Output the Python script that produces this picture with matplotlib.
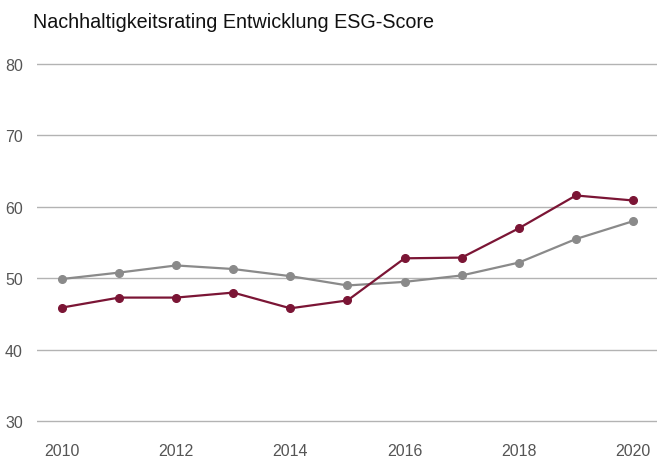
import matplotlib.pyplot as plt

years = [2010, 2011, 2012, 2013, 2014, 2015, 2016, 2017, 2018, 2019, 2020]
score_red = [45.9, 47.3, 47.3, 48.0, 45.8, 46.9, 52.8, 52.9, 57.0, 61.6, 60.9]
score_gray = [49.9, 50.8, 51.8, 51.3, 50.3, 49.0, 49.5, 50.4, 52.2, 55.5, 58.0]
y_ticks = [30, 40, 50, 60, 70, 80]
x_ticks = [2010, 2012, 2014, 2016, 2018, 2020]

plt.rcParams['font.family'] = ['Liberation Sans', 'DejaVu Sans']

fig = plt.figure(figsize=(6.57, 4.64), dpi=100)
ax = fig.add_axes([0.056, 0.081, 0.944, 0.788])

ax.plot(years, score_gray, color='#8a8a8a', lw=1.6, marker='o', ms=5.5, zorder=3)
ax.plot(years, score_red, color='#7b1535', lw=1.6, marker='o', ms=5.5, zorder=4)

ax.set_xlim(2009.56, 2020.42)
ax.set_ylim(29.4, 80.6)
ax.set_yticks(y_ticks)
ax.set_xticks(x_ticks)
ax.grid(axis='y', color='#b3b3b3', lw=1.0)
ax.grid(axis='x', visible=False)
for s in ax.spines.values():
    s.set_visible(False)
ax.tick_params(length=0, labelsize=11.5, labelcolor='#555555')
ax.tick_params(axis='y', pad=10)
ax.tick_params(axis='x', pad=13)
ax.set_axisbelow(True)

fig.text(0.05, 0.952, 'Nachhaltigkeitsrating Entwicklung ESG-Score', fontsize=14.2,
         color='#111111', va='center', ha='left')

fig.savefig('out.png', dpi=100)
